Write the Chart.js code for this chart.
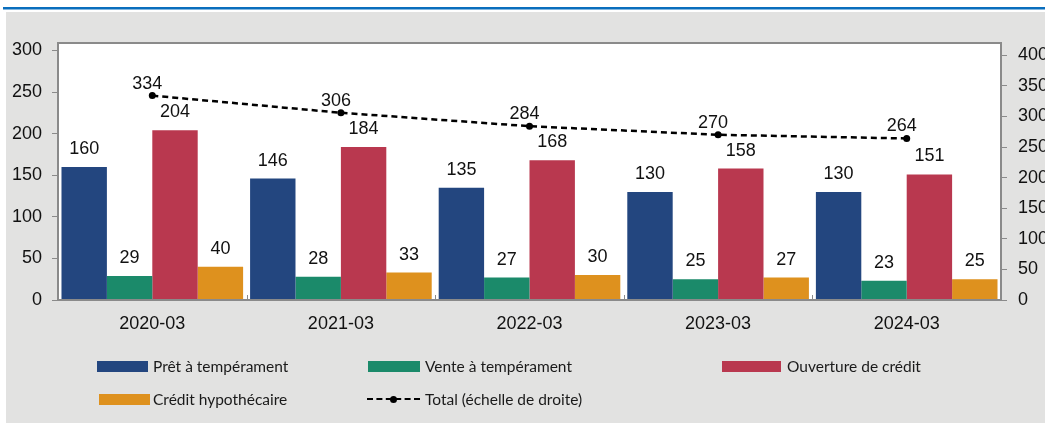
<!DOCTYPE html>
<html>
<head>
<meta charset="utf-8">
<script src="https://cdn.jsdelivr.net/npm/chart.js@4"></script>
<style>
  body { margin: 0; background: #fff; }
  #wrap { position: relative; width: 1045px; height: 424px; }
  .lg { position: absolute; font-family: Lato, "Liberation Sans", sans-serif; font-size: 15.5px; color: #1a1a1a; line-height: 20px; white-space: nowrap; }
  .box { position: absolute; height: 11px; }
</style>
</head>
<body>
<div id="wrap">
  <canvas id="chart" width="1045" height="424"></canvas>
  <div id="legend"></div>
</div>
<script>
const categories = ['2020-03', '2021-03', '2022-03', '2023-03', '2024-03'];
const pret = [160, 146, 135, 130, 130];
const vente = [29, 28, 27, 25, 23];
const ouverture = [204, 184, 168, 158, 151];
const hypothecaire = [40, 33, 30, 27, 25];
const total = [334, 306, 284, 270, 264];
const leftTicks = [0, 50, 100, 150, 200, 250, 300];
const rightTicks = [0, 50, 100, 150, 200, 250, 300, 350, 400];

const colors = {
  pret: '#23467f',
  vente: '#1b8a6a',
  ouverture: '#b9384f',
  hypo: '#de911e'
};
const font = "'Liberation Sans', Arial, sans-serif";

// background, plot frame and small category ticks
const frame = {
  id: 'frame',
  beforeDraw(chart) {
    const ctx = chart.ctx;
    const a = chart.chartArea;
    ctx.save();
    ctx.fillStyle = '#fff';
    ctx.fillRect(0, 0, chart.width, chart.height);
    ctx.fillStyle = '#e2e2e1';
    ctx.fillRect(6, 12, chart.width - 6, 411);
    ctx.fillStyle = '#0a6ebd';
    ctx.fillRect(3, 7, chart.width - 3, 2.5);
    ctx.fillStyle = '#fff';
    ctx.fillRect(a.left, a.top, a.width, a.height);
    ctx.restore();
  },
  afterDraw(chart) {
    const ctx = chart.ctx;
    const a = chart.chartArea;
    const x = chart.scales.x;
    ctx.save();
    ctx.strokeStyle = '#8a8a8a';
    ctx.lineWidth = 2;
    ctx.strokeRect(a.left, a.top, a.width, a.height);
    ctx.lineWidth = 1;
    for (let i = 1; i < categories.length; i++) {
      const px = Math.round((x.getPixelForValue(i - 1) + x.getPixelForValue(i)) / 2) + 0.5;
      ctx.beginPath();
      ctx.moveTo(px, a.bottom - 5);
      ctx.lineTo(px, a.bottom);
      ctx.stroke();
    }
    ctx.restore();
  }
};

// value labels above bars and line points
const valueLabels = {
  id: 'valueLabels',
  afterDatasetsDraw(chart) {
    const ctx = chart.ctx;
    ctx.save();
    ctx.font = '18px ' + font;
    ctx.fillStyle = '#111';
    ctx.textAlign = 'center';
    ctx.textBaseline = 'alphabetic';
    chart.data.datasets.forEach((ds, i) => {
      const meta = chart.getDatasetMeta(i);
      meta.data.forEach((el, j) => {
        if (ds.type === 'line') {
          ctx.fillText(ds.data[j], el.x - 5, el.y - 7);
        } else {
          ctx.fillText(ds.data[j], el.x, el.y - 13);
        }
      });
    });
    ctx.restore();
  }
};

new Chart(document.getElementById('chart'), {
  data: {
    labels: categories,
    datasets: [
      { type: 'line', label: 'Total (échelle de droite)', data: total, yAxisID: 'y1',
        borderColor: '#000', borderWidth: 2.5, borderDash: [6, 4],
        pointRadius: 3.5, pointBackgroundColor: '#000', pointBorderWidth: 0, order: 0 },
      { type: 'bar', label: 'Prêt à tempérament', data: pret, backgroundColor: colors.pret, yAxisID: 'y', order: 1 },
      { type: 'bar', label: 'Vente à tempérament', data: vente, backgroundColor: colors.vente, yAxisID: 'y', order: 1 },
      { type: 'bar', label: 'Ouverture de crédit', data: ouverture, backgroundColor: colors.ouverture, yAxisID: 'y', order: 1 },
      { type: 'bar', label: 'Crédit hypothécaire', data: hypothecaire, backgroundColor: colors.hypo, yAxisID: 'y', order: 1 }
    ]
  },
  options: {
    responsive: false,
    animation: false,
    datasets: { bar: { categoryPercentage: 0.963, barPercentage: 1 } },
    layout: { padding: { left: 0, right: 0, top: 43, bottom: 84 } },
    plugins: { legend: { display: false }, tooltip: { enabled: false } },
    scales: {
      x: {
        grid: { display: false },
        border: { display: false },
        ticks: { color: '#111', font: { family: font, size: 18 }, padding: 5 },
        afterFit(s) { s.height = 40; }
      },
      y: {
        position: 'left', min: 0, max: 309,
        afterBuildTicks(s) { s.ticks = leftTicks.map(v => ({ value: v })); },
        ticks: { color: '#111', font: { family: font, size: 18 }, padding: 10 },
        grid: { drawOnChartArea: false, tickLength: 6, color: '#8a8a8a' },
        border: { display: false },
        afterFit(s) { s.width = 58; }
      },
      y1: {
        position: 'right', min: 0, max: 420,
        afterBuildTicks(s) { s.ticks = rightTicks.map(v => ({ value: v })); },
        ticks: { color: '#111', font: { family: font, size: 18 }, padding: 11 },
        grid: { drawOnChartArea: false, tickLength: 6, color: '#8a8a8a' },
        border: { display: false },
        afterFit(s) { s.width = 44; }
      }
    }
  },
  plugins: [frame, valueLabels]
});

// legend laid out in columns like the original
const legendItems = [
  { text: 'Prêt à tempérament', color: colors.pret, x: 97, y: 361, w: 51, tx: 153 },
  { text: 'Vente à tempérament', color: colors.vente, x: 368, y: 361, w: 52, tx: 425 },
  { text: 'Ouverture de crédit', color: colors.ouverture, x: 722, y: 361, w: 59, tx: 787 },
  { text: 'Crédit hypothécaire', color: colors.hypo, x: 99, y: 394, w: 51, tx: 153 },
  { text: 'Total (échelle de droite)', line: true, x: 367, y: 394, w: 53, tx: 425 }
];
const legend = document.getElementById('legend');
legendItems.forEach(it => {
  if (it.line) {
    const l = document.createElement('div');
    l.className = 'box';
    l.style.cssText = `left:${it.x}px;top:${it.y + 4}px;width:${it.w}px;height:0;border-top:2.5px dashed #000;`;
    legend.appendChild(l);
    const d = document.createElement('div');
    d.className = 'box';
    d.style.cssText = `left:${it.x + 23}px;top:${it.y + 2}px;width:7px;height:7px;border-radius:50%;background:#000;`;
    legend.appendChild(d);
  } else {
    const b = document.createElement('div');
    b.className = 'box';
    b.style.cssText = `left:${it.x}px;top:${it.y}px;width:${it.w}px;background:${it.color};`;
    legend.appendChild(b);
  }
  const t = document.createElement('div');
  t.className = 'lg';
  t.style.left = it.tx + 'px';
  t.style.top = (it.y - 5) + 'px';
  t.textContent = it.text;
  legend.appendChild(t);
});
</script>
</body>
</html>
